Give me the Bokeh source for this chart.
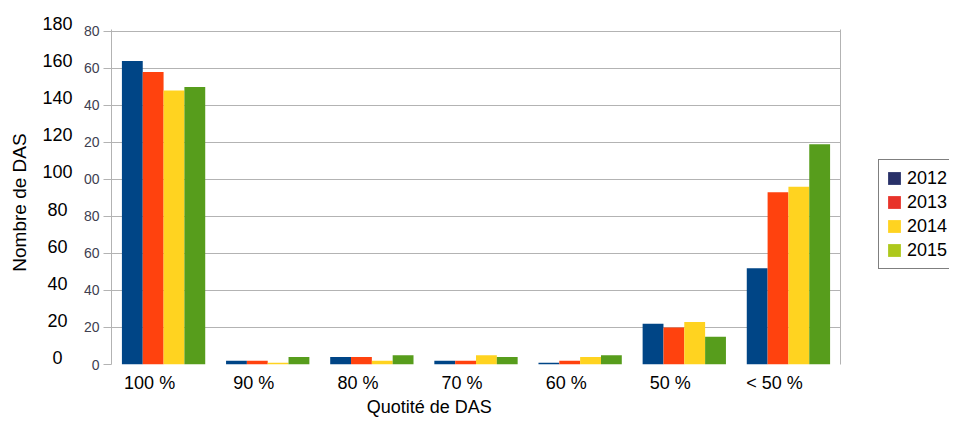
from math import pi
from bokeh.plotting import figure
from bokeh.layouts import row, column
from bokeh.models import (ColumnDataSource, Range1d, LinearAxis, FixedTicker,
                          Legend, LegendItem, Label, LabelSet)
from bokeh.transform import dodge
from bokeh.core.properties import value
from bokeh.embed import file_html
from bokeh.resources import INLINE

# ---------------- data ----------------
categories = ["100 %", "90 %", "80 %", "70 %", "60 %", "50 %", "< 50 %"]
years = ["2012", "2013", "2014", "2015"]
v2012 = [164, 2, 4, 2, 1, 22, 52]
v2013 = [158, 2, 4, 2, 2, 20, 93]
v2014 = [148, 1, 2, 5, 4, 23, 96]
v2015 = [150, 4, 5, 4, 5, 15, 119]
y_ticks = [0, 20, 40, 60, 80, 100, 120, 140, 160, 180]
y_tick_labels_clipped = ["0", "20", "40", "60", "80", "00", "20", "40", "60", "80"]
overlay_tick_labels = ["0", "20", "40", "60", "80", "100", "120", "140", "160", "180"]
x_title = "Quotité de DAS"
y_title = "Nombre de DAS"

# ---------------- styles ----------------
bar_colors = ["#004586", "#ff420e", "#ffd320", "#579d1c"]
legend_colors = ["#283068", "#e8332a", "#ffd320", "#adc81c"]
grid_color = "#b3b3b3"
FONT = "Liberation Sans"
H = 417
MAIN_H = 395
NAN = float("nan")


def blank(width, height, xr, yr):
    f = figure(width=width, height=height, x_range=xr, y_range=yr,
               output_backend="svg", toolbar_location=None,
               x_axis_location=None, y_axis_location=None,
               min_border_left=0, min_border_right=0, min_border_top=0,
               min_border_bottom=0)
    f.outline_line_color = None
    f.xgrid.visible = False
    f.ygrid.visible = False
    f.background_fill_color = "white"
    f.border_fill_color = "white"
    return f


ncat = len(categories)
centers = [i + 0.5 for i in range(ncat)]

# ---------------- main chart ----------------
p = figure(width=780, height=MAIN_H, x_range=Range1d(0, ncat),
           y_range=Range1d(0, 181),
           output_backend="svg", toolbar_location=None, x_axis_location=None,
           min_border_left=30, min_border_right=20, min_border_top=29,
           min_border_bottom=23)
p.outline_line_color = None
p.background_fill_color = "white"
p.border_fill_color = "white"
p.xgrid.visible = False
p.extra_x_ranges = {"lab": Range1d(0.134, ncat + 0.134)}

src = ColumnDataSource(dict(xc=centers, cat=categories, y2012=v2012,
                            y2013=v2013, y2014=v2014, y2015=v2015))
offsets = [-0.3, -0.1, 0.1, 0.3]
for yr, col, off in zip(years, bar_colors, offsets):
    p.vbar(x=dodge("xc", off), top="y" + yr, width=0.2,
           source=src, fill_color=col, line_color=None)

ya = p.yaxis[0]
ya.ticker = FixedTicker(ticks=y_ticks)
ya.major_label_overrides = dict(zip(y_ticks, y_tick_labels_clipped))
ya.axis_line_color = grid_color
ya.major_tick_line_color = grid_color
ya.major_tick_out = 8
ya.major_tick_in = 0
ya.minor_tick_line_color = None
ya.major_label_standoff = 4
ya.major_label_text_font = FONT
ya.major_label_text_font_size = "14px"
ya.major_label_text_color = "#404050"

p.ygrid.ticker = FixedTicker(ticks=y_ticks[1:])
p.ygrid.grid_line_color = grid_color
p.ygrid.grid_line_width = 1

ra = LinearAxis(ticker=FixedTicker(ticks=[]), axis_line_color=grid_color,
                major_tick_line_color=None, minor_tick_line_color=None)
p.add_layout(ra, "right")

xa = LinearAxis(x_range_name="lab", ticker=FixedTicker(ticks=centers),
                major_label_overrides=dict(zip(centers, categories)),
                axis_line_color=None, major_tick_line_color=None,
                minor_tick_line_color=None, major_label_standoff=2,
                major_label_text_font=FONT, major_label_text_font_size="18px",
                major_label_text_color="black")
p.add_layout(xa, "below")

# ---------------- left strip: overlay numbers + y title ----------------
left = blank(80, H, Range1d(0, 80), Range1d(H, 0))
left.extra_y_ranges = {"ov": Range1d(-32.34, 192.40)}
osrc = ColumnDataSource(dict(v=y_ticks, t=overlay_tick_labels))
left.add_layout(LabelSet(x=57, y="v", text="t", source=osrc,
                         y_range_name="ov", text_align="center",
                         text_baseline="middle", text_font=value(FONT),
                         text_font_size="18px", text_color="black"))
left.add_layout(Label(x=19, y=202, text=y_title, angle=pi / 2,
                      text_align="center", text_baseline="middle",
                      text_font=FONT, text_font_size="19px",
                      text_color="black"))

# ---------------- bottom strip: x title ----------------
bottom = blank(780, H - MAIN_H, Range1d(80, 860), Range1d(H, MAIN_H))
bottom.add_layout(Label(x=420, y=406, text=x_title, text_align="center",
                        text_baseline="middle", text_font=FONT,
                        text_font_size="18px", text_color="black"))

# ---------------- right strip: legend ----------------
right = blank(89, H, Range1d(860, 949), Range1d(H, 0))
items = []
for yr, col in zip(years, legend_colors):
    dsrc = ColumnDataSource(dict(x=[NAN], top=[NAN]))
    r = right.vbar(x="x", top="top", width=1, source=dsrc,
                   fill_color=col, line_color=None)
    items.append(LegendItem(label=yr, renderers=[r]))
legend = Legend(items=items, location=(18, 148), glyph_width=16,
                glyph_height=16, label_height=22, spacing=2, padding=7,
                label_standoff=5, label_width=70, margin=0,
                label_text_font=FONT, label_text_font_size="18px",
                label_text_color="black", border_line_color="black",
                border_line_width=1, background_fill_color="white",
                background_fill_alpha=1)
right.add_layout(legend, "center")

layout = row(left, column(p, bottom, spacing=0), right, spacing=0)
open("out.html", "w").write(file_html(layout, INLINE))
